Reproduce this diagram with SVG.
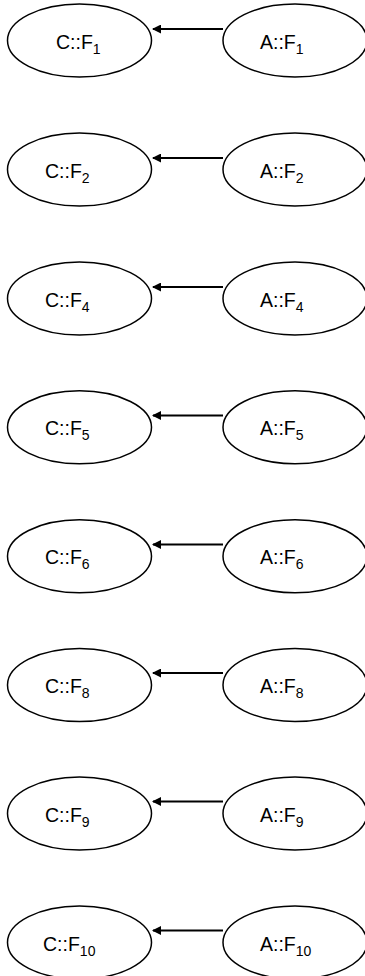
<svg xmlns="http://www.w3.org/2000/svg" width="365" height="976" viewBox="0 0 365 976">
<defs>
<style>
.n{fill:#fff;stroke:#000;stroke-width:1.5}
.t{font-family:"Liberation Sans",Arial,sans-serif;font-size:19.5px;fill:#000}
.s{font-size:14px}
.e{stroke:#000;stroke-width:2;fill:none}
</style>
<marker id="ah" markerWidth="9" markerHeight="9" refX="8" refY="4.5" orient="auto" markerUnits="userSpaceOnUse">
<path d="M0,0 L9,4.5 L0,9 Z" fill="#000"/>
</marker>
</defs>
<g id="connectors">
<line class="e" x1="223" y1="29" x2="153" y2="29" marker-end="url(#ah)"/>
<line class="e" x1="223" y1="158" x2="153" y2="158" marker-end="url(#ah)"/>
<line class="e" x1="223" y1="287" x2="153" y2="287" marker-end="url(#ah)"/>
<line class="e" x1="223" y1="415.5" x2="153" y2="415.5" marker-end="url(#ah)"/>
<line class="e" x1="223" y1="544.5" x2="153" y2="544.5" marker-end="url(#ah)"/>
<line class="e" x1="223" y1="673" x2="153" y2="673" marker-end="url(#ah)"/>
<line class="e" x1="223" y1="801.5" x2="153" y2="801.5" marker-end="url(#ah)"/>
<line class="e" x1="223" y1="930.5" x2="153" y2="930.5" marker-end="url(#ah)"/>
</g>
<g id="C1"><ellipse class="n" cx="79.5" cy="40.5" rx="72" ry="36.5"/><text class="t" x="56" y="48.5">C::F<tspan class="s" dy="5">1</tspan></text></g>
<g id="A1"><ellipse class="n" cx="295" cy="40.5" rx="72" ry="36.5"/><text class="t" x="260" y="48.5">A::F<tspan class="s" dy="5">1</tspan></text></g>
<g id="C2"><ellipse class="n" cx="79.5" cy="169.5" rx="72" ry="36.5"/><text class="t" x="45" y="177.5">C::F<tspan class="s" dy="5">2</tspan></text></g>
<g id="A2"><ellipse class="n" cx="295" cy="169.5" rx="72" ry="36.5"/><text class="t" x="260" y="177.5">A::F<tspan class="s" dy="5">2</tspan></text></g>
<g id="C4"><ellipse class="n" cx="79.5" cy="298.5" rx="72" ry="36.5"/><text class="t" x="45" y="306.5">C::F<tspan class="s" dy="5">4</tspan></text></g>
<g id="A4"><ellipse class="n" cx="295" cy="298.5" rx="72" ry="36.5"/><text class="t" x="260" y="306.5">A::F<tspan class="s" dy="5">4</tspan></text></g>
<g id="C5"><ellipse class="n" cx="79.5" cy="427.3" rx="72" ry="36.5"/><text class="t" x="45" y="435.3">C::F<tspan class="s" dy="5">5</tspan></text></g>
<g id="A5"><ellipse class="n" cx="295" cy="427.3" rx="72" ry="36.5"/><text class="t" x="260" y="435.3">A::F<tspan class="s" dy="5">5</tspan></text></g>
<g id="C6"><ellipse class="n" cx="79.5" cy="556.3" rx="72" ry="36.5"/><text class="t" x="45" y="564.3">C::F<tspan class="s" dy="5">6</tspan></text></g>
<g id="A6"><ellipse class="n" cx="295" cy="556.3" rx="72" ry="36.5"/><text class="t" x="260" y="564.3">A::F<tspan class="s" dy="5">6</tspan></text></g>
<g id="C8"><ellipse class="n" cx="79.5" cy="685" rx="72" ry="36.5"/><text class="t" x="45" y="693">C::F<tspan class="s" dy="5">8</tspan></text></g>
<g id="A8"><ellipse class="n" cx="295" cy="685" rx="72" ry="36.5"/><text class="t" x="260" y="693">A::F<tspan class="s" dy="5">8</tspan></text></g>
<g id="C9"><ellipse class="n" cx="79.5" cy="813.5" rx="72" ry="36.5"/><text class="t" x="45" y="821.5">C::F<tspan class="s" dy="5">9</tspan></text></g>
<g id="A9"><ellipse class="n" cx="295" cy="813.5" rx="72" ry="36.5"/><text class="t" x="260" y="821.5">A::F<tspan class="s" dy="5">9</tspan></text></g>
<g id="C10"><ellipse class="n" cx="79.5" cy="942.5" rx="72" ry="36.5"/><text class="t" x="43" y="950.5">C::F<tspan class="s" dy="5">10</tspan></text></g>
<g id="A10"><ellipse class="n" cx="295" cy="942.5" rx="72" ry="36.5"/><text class="t" x="260" y="950.5">A::F<tspan class="s" dy="5">10</tspan></text></g>
</svg>
